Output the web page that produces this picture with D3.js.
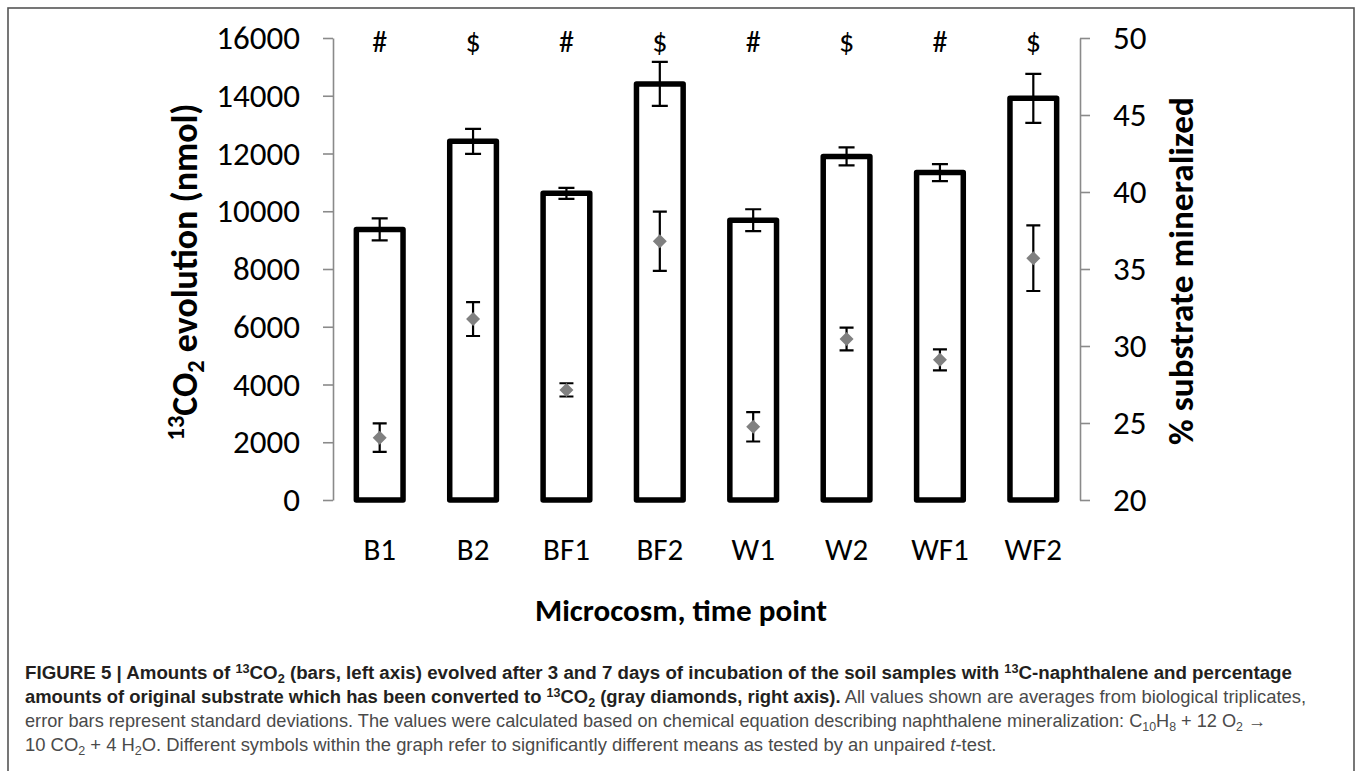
<!DOCTYPE html>
<html><head><meta charset="utf-8">
<script src="https://cdn.jsdelivr.net/npm/d3@7"></script>
<style>
html,body{margin:0;padding:0;background:#fff;}
svg{display:block;}
</style></head>
<body>
<svg id="chart" width="1357" height="771"></svg>
<script>
// ---------------- data ----------------
const categories = ["B1", "B2", "BF1", "BF2", "W1", "W2", "WF1", "WF2"];
const co2Values  = [9370, 12420, 10620, 14410, 9690, 11900, 11340, 13910];
const co2Sd      = [380, 430, 190, 760, 380, 310, 295, 850];
const pctValues  = [24.05, 31.75, 27.15, 36.8, 24.75, 30.45, 29.1, 35.7];
const pctSd      = [0.92, 1.1, 0.43, 1.92, 0.95, 0.74, 0.68, 2.13];
const sigSymbols = ["#", "$", "#", "$", "#", "$", "#", "$"];
const leftTicks  = [0, 2000, 4000, 6000, 8000, 10000, 12000, 14000, 16000];
const rightTicks = [20, 25, 30, 35, 40, 45, 50];

// ---------------- layout ----------------
const svg = d3.select("#chart");
const plot = {left: 333, right: 1080, top: 38, bottom: 500};
const sans = "Carlito, Lato, 'Open Sans', sans-serif";
const capFont = "'Liberation Sans Narrow', 'Liberation Sans', Arial, sans-serif";
const axisGray = "#8a8a8a";

svg.append("rect").attr("width", 1357).attr("height", 771).attr("fill", "#fff");
// frame
svg.append("rect").attr("x", 8).attr("y", 8).attr("width", 1346).attr("height", 820)
  .attr("fill", "none").attr("stroke", "#555").attr("stroke-width", 1.6);

const x = d3.scaleBand().domain(categories).range([plot.left, plot.right])
  .paddingInner(0.5).paddingOuter(0.25);
const yL = d3.scaleLinear().domain([0, 16000]).range([plot.bottom, plot.top]);
const yR = d3.scaleLinear().domain([20, 50]).range([plot.bottom, plot.top]);

function styleAxis(g) {
  g.select(".domain").attr("stroke", axisGray).attr("stroke-width", 1.6);
  g.selectAll(".tick line").attr("stroke", axisGray).attr("stroke-width", 1.6);
  g.selectAll(".tick text").attr("fill", "#000").style("font-family", sans).style("font-size", "33px");
}

svg.append("g").attr("transform", `translate(${plot.left},0)`)
  .call(d3.axisLeft(yL).tickValues(leftTicks).tickSize(10).tickSizeOuter(0).tickPadding(23).tickFormat(d3.format("d")))
  .call(styleAxis);
svg.append("g").attr("transform", `translate(${plot.right},0)`)
  .call(d3.axisRight(yR).tickValues(rightTicks).tickSize(10).tickSizeOuter(0).tickPadding(23).tickFormat(d3.format("d")))
  .call(styleAxis);

// category labels
svg.append("g").attr("transform", `translate(0,${plot.bottom})`)
  .call(d3.axisBottom(x).tickSize(0).tickPadding(38))
  .call(g => {
    g.select(".domain").remove();
    g.selectAll(".tick text").attr("fill", "#000").style("font-family", sans).style("font-size", "31px");
  });

const data = categories.map((c, i) => ({c, v: co2Values[i], sd: co2Sd[i], p: pctValues[i], psd: pctSd[i], s: sigSymbols[i]}));
const cx = d => x(d.c) + x.bandwidth() / 2;

// bars
svg.append("g").selectAll("rect").data(data).join("rect")
  .attr("x", d => x(d.c)).attr("y", d => yL(d.v))
  .attr("width", x.bandwidth()).attr("height", d => yL(0) - yL(d.v))
  .attr("fill", "#fff").attr("stroke", "#000").attr("stroke-width", 5.5)
  .attr("stroke-linejoin", "round");

function errPath(xc, y1, y2, cap) {
  return `M${xc - cap},${y1}H${xc + cap}M${xc},${y1}V${y2}M${xc - cap},${y2}H${xc + cap}`;
}
// bar error bars
svg.append("g").selectAll("path").data(data).join("path")
  .attr("d", d => errPath(cx(d), yL(d.v + d.sd), yL(d.v - d.sd), 8))
  .attr("fill", "none").attr("stroke", "#000").attr("stroke-width", 2.2);

// diamond error bars
svg.append("g").selectAll("path").data(data).join("path")
  .attr("d", d => errPath(cx(d), yR(d.p + d.psd), yR(d.p - d.psd), 7))
  .attr("fill", "none").attr("stroke", "#000").attr("stroke-width", 2.2);

// diamonds
const diamond = {draw(ctx, size) { const r = Math.sqrt(size / 2);
  ctx.moveTo(0, -r); ctx.lineTo(r, 0); ctx.lineTo(0, r); ctx.lineTo(-r, 0); ctx.closePath(); }};
svg.append("g").selectAll("path").data(data).join("path")
  .attr("transform", d => `translate(${cx(d)},${yR(d.p)})`)
  .attr("d", d3.symbol(diamond, 98))
  .attr("fill", "#808080");

// significance symbols
svg.append("g").selectAll("text").data(data).join("text")
  .attr("x", cx).attr("y", 52).attr("text-anchor", "middle")
  .style("font-family", sans).style("font-size", "30px").text(d => d.s);

// ---------------- titles ----------------
function addRich(textSel, segs, fs) {
  let pending = 0;
  segs.forEach(([t, st]) => {
    const tok = st.split(" ");
    const ts = textSel.append("tspan").text(t);
    let shift = 0, size = fs;
    if (tok.includes("sup")) { size = fs * 0.68; shift = -fs * 0.36; }
    if (tok.includes("sub")) { size = fs * 0.68; shift = fs * 0.2; }
    ts.style("font-size", size + "px");
    if (tok.includes("b")) ts.style("font-weight", "bold");
    if (tok.includes("i")) ts.style("font-style", "italic");
    if (tok.includes("g")) ts.attr("fill", "#4a4a4a");
    const dy = shift - pending;
    if (dy !== 0) ts.attr("dy", dy);
    pending = shift;
  });
}
function fitSize(textSel, segs, target) {
  let fs = 30;
  addRich(textSel, segs, fs);
  const w = textSel.node().getComputedTextLength();
  fs = fs * target / w;
  textSel.selectAll("tspan").remove();
  addRich(textSel, segs, fs);
}

const leftTitle = svg.append("text").attr("transform", "translate(197,272) rotate(-90)")
  .attr("text-anchor", "middle").style("font-family", sans).attr("fill", "#000");
fitSize(leftTitle, [["13", "b sup"], ["CO", "b"], ["2", "b sub"], [" evolution (nmol)", "b"]], 337);

const rightTitle = svg.append("text").attr("transform", "translate(1193,271) rotate(-90)")
  .attr("text-anchor", "middle").style("font-family", sans).attr("fill", "#000");
fitSize(rightTitle, [["% substrate mineralized", "b"]], 348);

const xTitle = svg.append("text").attr("transform", "translate(681,621)")
  .attr("text-anchor", "middle").style("font-family", sans).attr("fill", "#000");
fitSize(xTitle, [["Microcosm, time point", "b"]], 292);

// ---------------- caption ----------------
const captionLines = [
  {y: 679, w: 1268, segs: [["FIGURE 5 | Amounts of ", "b"], ["13", "b sup"], ["CO", "b"], ["2", "b sub"],
    [" (bars, left axis) evolved after 3 and 7 days of incubation of the soil samples with ", "b"], ["13", "b sup"],
    ["C-naphthalene and percentage", "b"]]},
  {y: 703, w: 1282, segs: [["amounts of original substrate which has been converted to ", "b"], ["13", "b sup"], ["CO", "b"],
    ["2", "b sub"], [" (gray diamonds, right axis).", "b"], [" All values shown are averages from biological triplicates,", "g"]]},
  {y: 727, w: 1242, segs: [["error bars represent standard deviations. The values were calculated based on chemical equation describing naphthalene mineralization: C", "g"],
    ["10", "g sub"], ["H", "g"], ["8", "g sub"], [" + 12 O", "g"], ["2", "g sub"], [" \u2192", "g"]]},
  {y: 751, w: 972, segs: [["10 CO", "g"], ["2", "g sub"], [" + 4 H", "g"], ["2", "g sub"],
    ["O. Different symbols within the graph refer to significantly different means as tested by an unpaired ", "g"],
    ["t", "g i"], ["-test.", "g"]]}
];
captionLines.forEach(line => {
  const t = svg.append("text").attr("transform", `translate(25,${line.y})`)
    .style("font-family", capFont).attr("fill", "#231f20");
  addRich(t, line.segs, 17.5);
  const w = t.node().getComputedTextLength();
  t.attr("transform", `translate(25,${line.y}) scale(${line.w / w},1)`);
});
</script>
</body></html>
